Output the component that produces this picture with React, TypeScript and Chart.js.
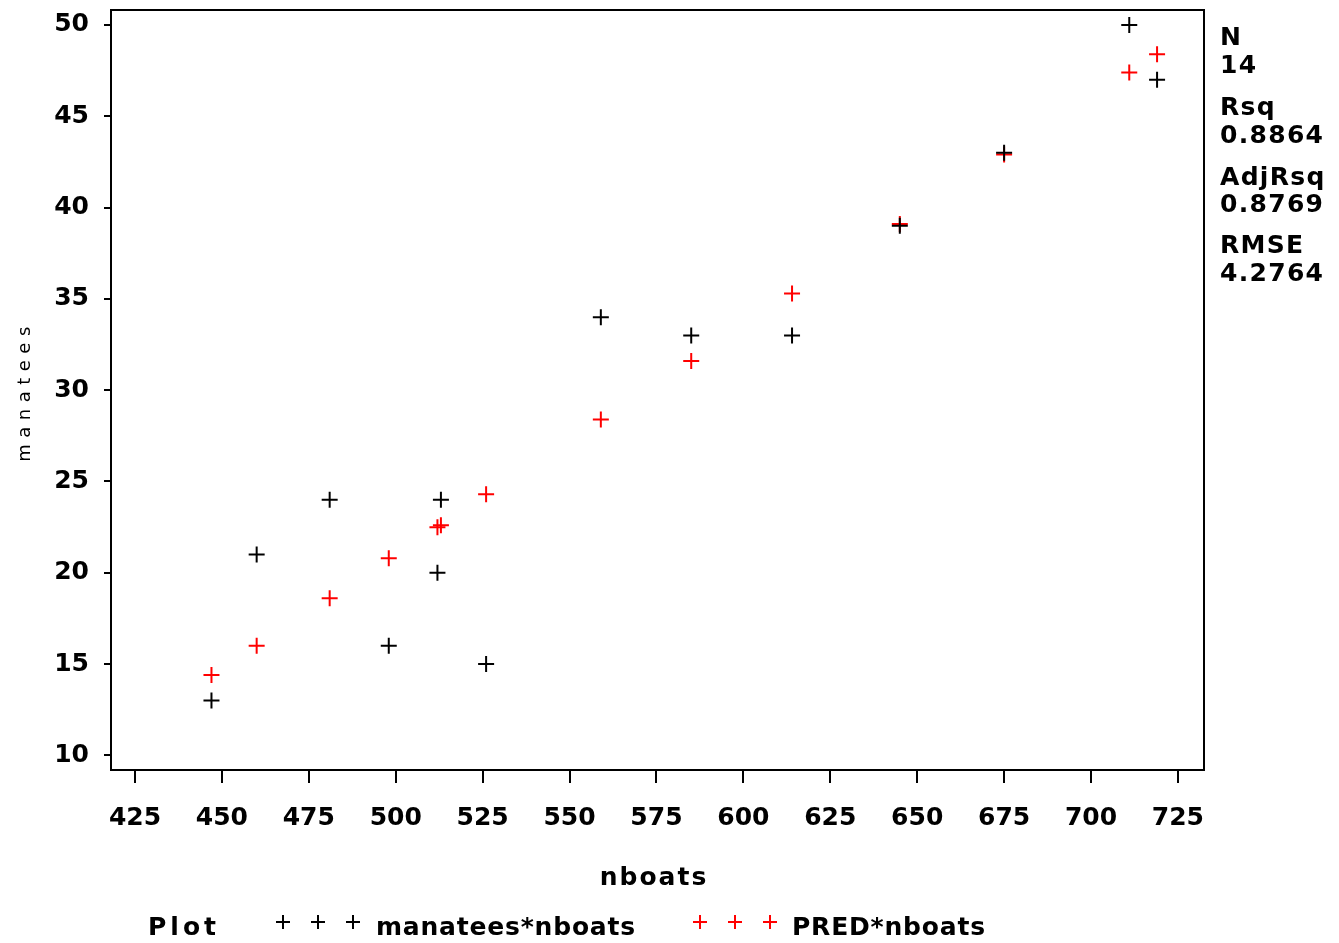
import React, { useEffect, useRef } from "react";
import { Chart, registerables } from "chart.js";
Chart.register(...registerables);

const nboats = [447, 460, 481, 498, 513, 512, 526, 559, 585, 614, 645, 675, 711, 719];
const manatees = [13, 21, 24, 16, 24, 20, 15, 34, 33, 33, 39, 43, 50, 47];
const predicted = [14.4, 16.0, 18.6, 20.8, 22.6, 22.5, 24.3, 28.4, 31.6, 35.3, 39.1, 42.9, 47.4, 48.4];
const xTicks = [425, 450, 475, 500, 525, 550, 575, 600, 625, 650, 675, 700, 725];
const yTicks = [10, 15, 20, 25, 30, 35, 40, 45, 50];
const statLines = ["N", "14", "Rsq", "0.8864", "AdjRsq", "0.8769", "RMSE", "4.2764"];
const statY = [38, 66, 108, 136, 178, 205, 246, 274];

const FONT = "'DejaVu Sans', sans-serif";

export default function App() {
  const ref = useRef<HTMLCanvasElement | null>(null);

  useEffect(() => {
    document.body.style.margin = "0";
    const canvas = ref.current!;
    const overlay = {
      id: "overlay",
      afterDraw(chart: any) {
        const ctx = chart.ctx as CanvasRenderingContext2D;
        const a = chart.chartArea;
        ctx.save();
        ctx.strokeStyle = "#000";
        ctx.lineWidth = 2;
        ctx.strokeRect(a.left, a.top, a.right - a.left, a.bottom - a.top);

        ctx.fillStyle = "#000";
        ctx.textBaseline = "middle";
        ctx.textAlign = "left";
        ctx.font = `bold 25px ${FONT}`;
        (ctx as any).letterSpacing = "1.3px";
        statLines.forEach((s, i) => ctx.fillText(s, 1220, statY[i]));

        // x title
        ctx.textAlign = "center";
        (ctx as any).letterSpacing = "2px";
        ctx.fillText("nboats", 654, 878);

        // y title
        ctx.save();
        ctx.translate(25, 391);
        ctx.rotate(-Math.PI / 2);
        ctx.font = `18px ${FONT}`;
        (ctx as any).letterSpacing = "6.5px";
        ctx.fillText("manatees", 0, 0);
        ctx.restore();

        // legend
        ctx.textAlign = "left";
        ctx.font = `bold 25px ${FONT}`;
        (ctx as any).letterSpacing = "4px";
        ctx.fillText("Plot", 148, 928);
        (ctx as any).letterSpacing = "0.8px";
        ctx.fillText("manatees*nboats", 376, 928);
        (ctx as any).letterSpacing = "0.8px";
        ctx.fillText("PRED*nboats", 792, 928);

        const cross = (cx: number, cy: number, color: string) => {
          ctx.strokeStyle = color;
          ctx.lineWidth = 2;
          ctx.beginPath();
          ctx.moveTo(cx - 7, cy);
          ctx.lineTo(cx + 7, cy);
          ctx.moveTo(cx, cy - 7);
          ctx.lineTo(cx, cy + 7);
          ctx.stroke();
        };
        [283, 318, 353].forEach((x) => cross(x, 922, "#000"));
        [700, 735, 770].forEach((x) => cross(x, 922, "#ff0000"));
        ctx.restore();
      },
    };

    const chart = new Chart(canvas, {
      type: "scatter",
      data: {
        datasets: [
          {
            label: "manatees*nboats",
            data: nboats.map((x, i) => ({ x, y: manatees[i] })),
            pointStyle: "cross",
            pointRadius: 8,
            borderColor: "#000",
            backgroundColor: "#000",
            borderWidth: 2,
          },
          {
            label: "PRED*nboats",
            data: nboats.map((x, i) => ({ x, y: predicted[i] })),
            pointStyle: "cross",
            pointRadius: 8,
            borderColor: "#ff0000",
            backgroundColor: "#ff0000",
            borderWidth: 2,
          },
        ],
      },
      options: {
        responsive: false,
        animation: false,
        layout: { padding: { top: 9, right: 135, left: 0, bottom: 0 } },
        plugins: { legend: { display: false }, tooltip: { enabled: false } },
        scales: {
          x: {
            type: "linear",
            min: 418.1,
            max: 732.5,
            afterBuildTicks: (s: any) => {
              s.ticks = xTicks.map((v) => ({ value: v }));
            },
            afterFit: (s: any) => {
              s.height = 173;
              s.paddingLeft = 0;
              s.paddingRight = 0;
            },
            grid: { drawOnChartArea: false, drawTicks: true, tickLength: 13, color: "#000", lineWidth: 2 },
            border: { display: true, color: "#000", width: 2 },
            ticks: { color: "#000", padding: 20, maxRotation: 0, autoSkip: false, font: { family: FONT, size: 25, weight: "bold" } },
          },
          y: {
            type: "linear",
            min: 9.2,
            max: 50.82,
            afterBuildTicks: (s: any) => {
              s.ticks = yTicks.map((v) => ({ value: v }));
            },
            afterFit: (s: any) => {
              s.width = 111;
              s.paddingTop = 0;
              s.paddingBottom = 0;
            },
            grid: { drawOnChartArea: false, drawTicks: true, tickLength: 7, color: "#000", lineWidth: 2 },
            border: { display: true, color: "#000", width: 2 },
            ticks: { color: "#000", padding: 15, autoSkip: false, font: { family: FONT, size: 25, weight: "bold" } },
          },
        },
      },
      plugins: [overlay],
    } as any);
    return () => chart.destroy();
  }, []);

  return (
    <div style={{ width: 1339, height: 943, background: "#fff" }}>
      <canvas ref={ref} width={1339} height={943} />
    </div>
  );
}
